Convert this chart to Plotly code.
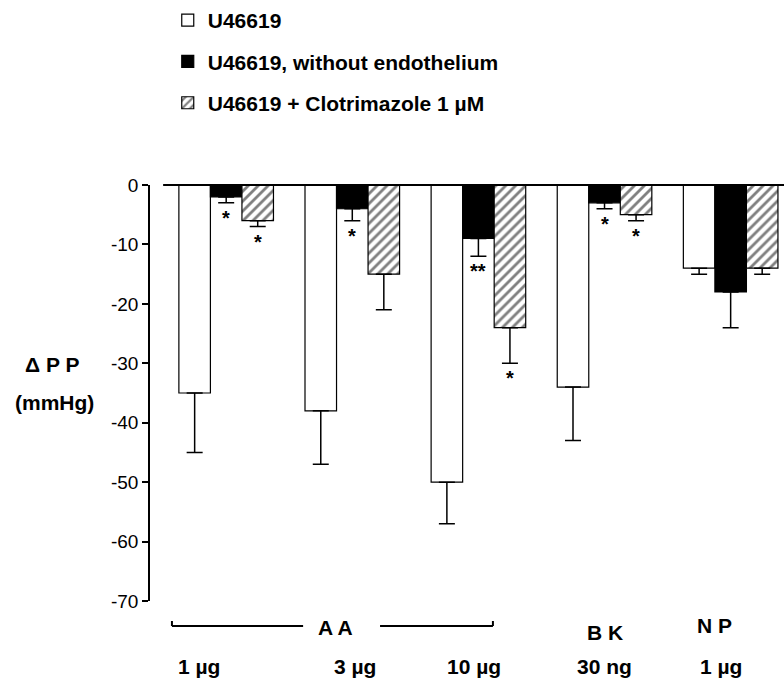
import plotly.graph_objects as go

# Categories (doses) and agent groups
doses = ["1 µg", "3 µg", "10 µg", "30 ng", "1 µg"]
agents = ["A A", "B K", "N P"]
series_names = ["U46619", "U46619, without endothelium", "U46619 + Clotrimazole 1 µM"]

# Change in perfusion pressure (mmHg), mean and SEM
u46619 = [-35, -38, -50, -34, -14]
u46619_sem = [10, 9, 7, 9, 1]
no_endo = [-2, -4, -9, -3, -18]
no_endo_sem = [1, 2, 3, 1, 6]
clotrimazole = [-6, -15, -24, -5, -14]
clotrimazole_sem = [1, 6, 6, 1, 1]

# Significance marks
no_endo_sig = ["*", "*", "**", "*", ""]
clotrimazole_sig = ["*", "", "*", "*", ""]

# Y axis ticks
y_ticks = [0, -10, -20, -30, -40, -50, -60, -70]
y_tick_labels = ["0", "-10", "-20", "-30", "-40", "-50", "-60", "-70"]

FONT = "Liberation Sans, Arial, sans-serif"
BOLD = dict(family=FONT, size=21, color="black", weight="bold")
xs = list(range(len(doses)))


def err(sem):
    return dict(type="data", symmetric=False, array=[0] * len(sem), arrayminus=sem,
                color="black", thickness=1.5, width=8)


fig = go.Figure()
fig.add_trace(go.Bar(
    x=xs, y=u46619, name=series_names[0], legendgroup="a",
    marker=dict(color="white", line=dict(color="black", width=1.2)),
    error_y=err(u46619_sem),
))
fig.add_trace(go.Bar(
    x=xs, y=no_endo, name=series_names[1], legendgroup="b",
    marker=dict(color="black", line=dict(color="black", width=1.2)),
    error_y=err(no_endo_sem),
))
fig.add_trace(go.Bar(
    x=xs, y=clotrimazole, name=series_names[2], legendgroup="c",
    marker=dict(color="white", line=dict(color="black", width=1.2),
                pattern=dict(shape="/", fgcolor="black", bgcolor="white",
                             size=7, solidity=0.4)),
    error_y=err(clotrimazole_sem),
))

annotations = []
# Asterisks below the error bars
for vals, sems, sigs, off in [(no_endo, no_endo_sem, no_endo_sig, 0.0),
                              (clotrimazole, clotrimazole_sem, clotrimazole_sig, 0.25)]:
    for i, s in enumerate(sigs):
        if s:
            annotations.append(dict(
                x=xs[i] + off, y=vals[i] - sems[i], xref="x", yref="y",
                text=s, showarrow=False, yanchor="top", yshift=-2,
                font=dict(family=FONT, size=20, color="black", weight="bold"),
            ))


def py(p):
    # pixel row -> paper coordinate
    return (601 - p) / 416


# Dose labels
dose_shift = [-27, 3, -4, 0, -10]
for i, d in enumerate(doses):
    annotations.append(dict(
        x=xs[i], y=py(666), xref="x", yref="paper", text=d, showarrow=False,
        xanchor="center", yanchor="middle", xshift=dose_shift[i], font=BOLD,
    ))

# Agent labels
agent_pos = [(0.87, 627), (3.0, 632), (3.87, 625)]
for name, (ax_, ay_) in zip(agents, agent_pos):
    annotations.append(dict(
        x=ax_, y=py(ay_), xref="x", yref="paper", text=name, showarrow=False,
        xanchor="center", yanchor="middle", font=BOLD,
    ))

# Y axis title
annotations.append(dict(x=(52 - 150) / 634, y=py(364), xref="paper", yref="paper", text="Δ P P",
                        showarrow=False, xanchor="center", yanchor="middle", font=BOLD))
annotations.append(dict(x=(54 - 150) / 634, y=py(402), xref="paper", yref="paper", text="(mmHg)",
                        showarrow=False, xanchor="center", yanchor="middle", font=BOLD))

line = dict(color="black", width=2)
by = py(626)
shapes = [
    # zero line
    dict(type="line", xref="x", yref="paper", x0=-0.5, x1=4.5, y0=1, y1=1, line=line),
    # AA bracket
    dict(type="line", xref="x", yref="paper", x0=-0.43, x1=0.61, y0=by, y1=by, line=line),
    dict(type="line", xref="x", yref="paper", x0=-0.43, x1=-0.43, y0=by, y1=by + 0.012, line=line),
    dict(type="line", xref="x", yref="paper", x0=1.22, x1=2.115, y0=by, y1=by, line=line),
    dict(type="line", xref="x", yref="paper", x0=2.115, x1=2.115, y0=by, y1=by + 0.012, line=line),
]

fig.update_layout(
    width=784, height=689,
    margin=dict(l=150, r=0, t=185, b=88),
    paper_bgcolor="white", plot_bgcolor="white",
    barmode="group", bargap=0.25, bargroupgap=0,
    font=dict(family=FONT, color="black"),
    showlegend=True,
    legend=dict(
        x=0.028, y=py(0), xanchor="left", yanchor="top",
        font=BOLD, tracegroupgap=11, bgcolor="rgba(0,0,0,0)",
    ),
    xaxis=dict(range=[-0.604, 4.423], visible=False),
    yaxis=dict(
        range=[-70, 0], tickvals=y_ticks, ticktext=y_tick_labels,
        showline=True, linecolor="black", linewidth=1.5,
        ticks="outside", ticklen=6, tickwidth=1.5, tickcolor="black",
        showgrid=False, zeroline=False,
        tickfont=dict(family=FONT, size=19, color="black"),
    ),
    annotations=annotations,
    shapes=shapes,
)

fig.write_html("out.html")
